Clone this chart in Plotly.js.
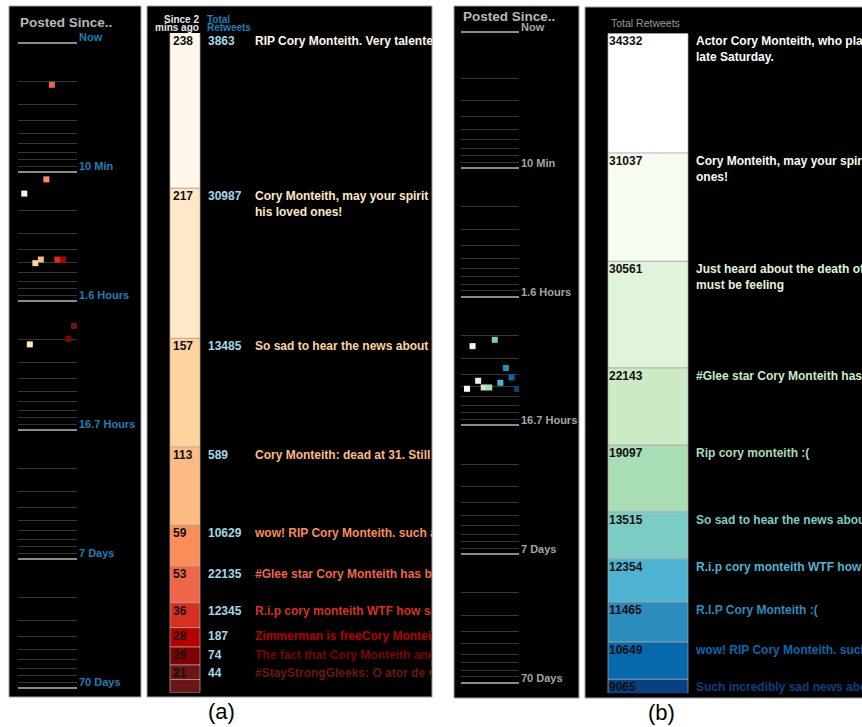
<!DOCTYPE html>
<html><head><meta charset="utf-8">
<script src="https://cdn.plot.ly/plotly-3.0.1.min.js"></script>
<style>html,body{margin:0;padding:0;background:#fff}#chart{width:862px;height:727px}</style>
</head><body><div id="chart"></div>
<script>
// ---------- Panel (a): ranked by retweets since 2 mins ago ----------
const aSinceCounts   = [238, 217, 157, 113, 59, 53, 36, 28, 26, 21];
const aOtherCount    = 19;   // unlabeled remainder at the bottom of the bar
const aTotalRetweets = [3863, 30987, 13485, 589, 10629, 22135, 12345, 187, 74, 44];
const aTweets = [
  "RIP Cory Monteith. Very talented actor gone too soon",
  "Cory Monteith, may your spirit rest in peace. Prayers to his family and<br>his loved ones!",
  "So sad to hear the news about Cory Monteith",
  "Cory Monteith: dead at 31. Still can't believe it",
  "wow! RIP Cory Monteith. such a talented actor",
  "#Glee star Cory Monteith has been found dead",
  "R.i.p cory monteith WTF how sad",
  "Zimmerman is freeCory Monteith is dead",
  "The fact that Cory Monteith and Paul Walker",
  "#StayStrongGleeks: O ator de Glee Cory Monteith"
];
const aColors = ['#fff7ec','#fee8c8','#fdd49e','#fdbb84','#fc8d59','#ef6548','#d7301f','#b30000','#7f0000','#6b1616'];
const aPostedMinutes = [14.7, 217, 50.9, 47.7, 11.4, 2.11, 47.7, 47.7, 197, 156];

// ---------- Panel (b): ranked by total retweets ----------
const bTotalRetweets = [34332, 31037, 30561, 22143, 19097, 13515, 12354, 11465, 10649, 9065];
const bTweets = [
  "Actor Cory Monteith, who played Finn on Glee, was found dead<br>late Saturday.",
  "Cory Monteith, may your spirit rest in peace. Prayers to his loved<br>ones!",
  "Just heard about the death of Cory Monteith. Can't imagine what his family<br>must be feeling",
  "#Glee star Cory Monteith has been found dead",
  "Rip cory monteith :(",
  "So sad to hear the news about Cory Monteith",
  "R.i.p cory monteith WTF how sad",
  "R.I.P Cory Monteith :(",
  "wow! RIP Cory Monteith. such a talented actor",
  "Such incredibly sad news about Cory Monteith"
];
const bColors = ['#ffffff','#f7fcf0','#e0f3db','#ccebc5','#a8ddb5','#7bccc4','#4eb3d3','#2b8cbe','#0868ac','#084081'];
const bPostedMinutes = [519, 242, 450, 507, 507, 216, 466, 358, 424, 521];

// ---------- Timeline ticks ----------
const aTimeTickMinutes = [1, 10, 100, 1000, 10000, 100000];
const bTimeTickMinutes = [0.87, 10, 100, 1000, 10000, 100000];
const timeTickLabels = ['Now', '10 Min', '1.6 Hours', '16.7 Hours', '7 Days', '70 Days'];

// ---------- helpers ----------
const W = 862, H = 727;
const px = x => x / W;
const py = y => 1 - y / H;
const FONT = 'Liberation Sans, Arial, Helvetica, sans-serif';
const cumBase = vals => { const out = []; let s = 0; vals.forEach(v => { out.push(s); s += v; }); return out; };
const ranks = n => Array.from({length: n}, (_, i) => i);
const minorVals = [];
for (let d = 0; d < 5; d++) for (let k = 2; k <= 9; k++) minorVals.push(k * Math.pow(10, d));

const aBarVals = aSinceCounts.concat([aOtherCount]);
const aBarColors = aColors.concat([aColors[aColors.length - 1]]);
const aBase = cumBase(aBarVals);
const bBase = cumBase(bTotalRetweets);

const aRange = [967, 13.7];      // reversed, top of bar clipped
const bRange = [189166, 0];
const aLabelY = aBase.slice(0, aSinceCounts.length).map(v => Math.max(v, aRange[1]));
const bLabelY = bBase.map(v => Math.max(v, bRange[1]));

const aLbl = { xaxis: 'x5', yaxis: 'y5' };   // label layer for bar (a), a few px lower than the bars
const bLbl = { xaxis: 'x6', yaxis: 'y6' };   // label layer for bar (b)

const traces = [
  // timeline (a)
  { type: 'scatter', mode: 'markers', xaxis: 'x', yaxis: 'y',
    x: ranks(aPostedMinutes.length), y: aPostedMinutes,
    marker: { symbol: 'square', size: 6, color: aColors, line: { width: 0 } }, hoverinfo: 'skip' },
  // bar (a)
  { type: 'bar', xaxis: 'x2', yaxis: 'y2',
    x: aBarVals.map(() => 38), y: aBarVals, base: aBase, width: 30,
    marker: { color: aBarColors, line: { color: 'rgba(190,170,160,0.7)', width: 1 } }, hoverinfo: 'skip' },
  Object.assign({ type: 'scatter', mode: 'text', cliponaxis: true,
    x: aSinceCounts.map(() => 26), y: aLabelY, text: aSinceCounts.map(String),
    textposition: 'bottom right', textfont: { family: FONT, size: 12, color: '#111', weight: 'bold' }, hoverinfo: 'skip' }, aLbl),
  Object.assign({ type: 'scatter', mode: 'text', cliponaxis: true,
    x: aTotalRetweets.map(() => 61), y: aLabelY, text: aTotalRetweets.map(String),
    textposition: 'bottom right', textfont: { family: FONT, size: 12, color: '#a3d9e6', weight: 'bold' }, hoverinfo: 'skip' }, aLbl),
  Object.assign({ type: 'scatter', mode: 'text', cliponaxis: true,
    x: aTweets.map(() => 108), y: aLabelY, text: aTweets,
    textposition: 'bottom right', textfont: { family: FONT, size: 12, color: aColors, weight: 'bold' }, hoverinfo: 'skip' }, aLbl),
  // timeline (b)
  { type: 'scatter', mode: 'markers', xaxis: 'x3', yaxis: 'y3',
    x: ranks(bPostedMinutes.length), y: bPostedMinutes,
    marker: { symbol: 'square', size: 6, color: bColors, line: { width: 0 } }, hoverinfo: 'skip' },
  // bar (b)
  { type: 'bar', xaxis: 'x4', yaxis: 'y4',
    x: bTotalRetweets.map(() => 63), y: bTotalRetweets, base: bBase, width: 80,
    marker: { color: bColors, line: { color: 'rgba(170,170,170,0.7)', width: 1 } }, hoverinfo: 'skip' },
  Object.assign({ type: 'scatter', mode: 'text', cliponaxis: true,
    x: bTotalRetweets.map(() => 24), y: bLabelY, text: bTotalRetweets.map(String),
    textposition: 'bottom right', textfont: { family: FONT, size: 12, color: '#111', weight: 'bold' }, hoverinfo: 'skip' }, bLbl),
  Object.assign({ type: 'scatter', mode: 'text', cliponaxis: true,
    x: bTweets.map(() => 111), y: bLabelY, text: bTweets,
    textposition: 'bottom right', textfont: { family: FONT, size: 12, color: bColors, weight: 'bold' }, hoverinfo: 'skip' }, bLbl)
];

const hidden = { visible: false, fixedrange: true };
// timeline y-axis: top tick at pixel yTop, bottom tick at yBot, padded a little so edge grid lines are drawn
const timeY = (yTop, yBot, tickvals) => {
  const lo = Math.log10(tickvals[0]), hi = Math.log10(tickvals[tickvals.length - 1]);
  const D = (yBot - yTop) / (hi - lo), pad = 3;
  return {
    domain: [py(yBot + pad), py(yTop - pad)], type: 'log', range: [hi + pad / D, lo - pad / D],
    tickmode: 'array', tickvals: tickvals,
    showticklabels: false, ticks: '', showline: false, zeroline: false,
    showgrid: true, gridcolor: '#8a8a8a', gridwidth: 2,
    minor: { tickmode: 'array', tickvals: minorVals, showgrid: true, gridcolor: '#363636', gridwidth: 1, ticks: '' }
  };
};

const shapes = [
  [9, 141, 6, 697], [147, 432, 6, 697], [454, 579, 6, 698], [585, 866, 7, 698]
].map(r => ({ type: 'rect', xref: 'paper', yref: 'paper', layer: 'below',
  x0: px(r[0]), x1: px(r[1]), y0: py(r[3]), y1: py(r[2]),
  fillcolor: '#000', line: { color: '#a0a0a0', width: 1 } }));

const ann = (x, y, text, opt) => Object.assign({ xref: 'paper', yref: 'paper', x: px(x), y: py(y), text: text,
  showarrow: false, xanchor: 'left', yanchor: 'middle', font: { family: FONT, size: 11, color: '#fff' } }, opt || {});

const annotations = [
  ann(18, 22, 'Posted Since..', { font: { family: FONT, size: 13.5, color: '#b8b8b8', weight: 'bold' } }),
  ann(461, 17, 'Posted Since..', { font: { family: FONT, size: 13.5, color: '#b8b8b8', weight: 'bold' } }),
  ann(201, 19, 'Since 2', { xanchor: 'right', font: { family: FONT, size: 10, color: '#e8e8e8', weight: 'bold' } }),
  ann(201, 27.5, 'mins ago', { xanchor: 'right', font: { family: FONT, size: 10, color: '#e8e8e8', weight: 'bold' } }),
  ann(205, 19, 'Total', { font: { family: FONT, size: 10, color: '#1f7fb6', weight: 'bold' } }),
  ann(205, 27.5, 'Retweets', { font: { family: FONT, size: 10, color: '#1f7fb6', weight: 'bold' } }),
  ann(609, 23, 'Total Retweets', { font: { family: FONT, size: 10.5, color: '#9a9a9a' } }),
  ann(221, 711, '(a)', { xanchor: 'center', font: { family: FONT, size: 22, color: '#000' } }),
  ann(661, 712, '(b)', { xanchor: 'center', font: { family: FONT, size: 22, color: '#000' } })
];
aTimeTickMinutes.forEach((v, i) => annotations.push({
  xref: 'paper', yref: 'y', x: px(77), y: Math.log10(v), text: timeTickLabels[i], showarrow: false,
  xanchor: 'left', yanchor: 'middle', yshift: 6, font: { family: FONT, size: 11, color: '#1f7fb6', weight: 'bold' } }));
bTimeTickMinutes.forEach((v, i) => annotations.push({
  xref: 'paper', yref: 'y3', x: px(519), y: Math.log10(v), text: timeTickLabels[i], showarrow: false,
  xanchor: 'left', yanchor: 'middle', yshift: 5, font: { family: FONT, size: 11, color: '#a5a5a5', weight: 'bold' } }));

const LBL_SHIFT = 3; // px the label layers sit below the bar boundaries
const layout = {
  width: W, height: H, autosize: false,
  margin: { l: 0, r: 0, t: 0, b: 0, pad: 0 },
  paper_bgcolor: '#ffffff', plot_bgcolor: 'rgba(0,0,0,0)',
  showlegend: false, barmode: 'overlay',
  xaxis:  Object.assign({ domain: [px(18), px(77)], range: [-1.14, 9.55], anchor: 'y' }, hidden),
  yaxis:  Object.assign(timeY(43, 688, aTimeTickMinutes), { anchor: 'x' }),
  xaxis2: Object.assign({ domain: [px(147), px(432)], range: [0, 285], anchor: 'y2' }, hidden),
  yaxis2: Object.assign({ domain: [py(692.7), py(33)], range: aRange, anchor: 'x2' }, hidden),
  xaxis3: Object.assign({ domain: [px(461), px(519)], range: [-1.08, 9.35], anchor: 'y3' }, hidden),
  yaxis3: Object.assign(timeY(31.7, 682.7, bTimeTickMinutes), { anchor: 'x3' }),
  xaxis4: Object.assign({ domain: [px(585), 1], range: [0, 277], anchor: 'y4' }, hidden),
  yaxis4: Object.assign({ domain: [py(693.3), py(33.3)], range: bRange, anchor: 'x4' }, hidden),
  xaxis5: Object.assign({ domain: [px(147), px(432)], range: [0, 285], anchor: 'y5' }, hidden),
  yaxis5: Object.assign({ domain: [py(692.7 + LBL_SHIFT), py(33 + LBL_SHIFT)], range: aRange, anchor: 'x5' }, hidden),
  xaxis6: Object.assign({ domain: [px(585), 1], range: [0, 277], anchor: 'y6' }, hidden),
  yaxis6: Object.assign({ domain: [py(693.3 + LBL_SHIFT), py(33.3 + LBL_SHIFT)], range: bRange, anchor: 'x6' }, hidden),
  shapes: shapes,
  annotations: annotations
};

Plotly.newPlot('chart', traces, layout, { staticPlot: true, displayModeBar: false });
</script>
</body></html>
